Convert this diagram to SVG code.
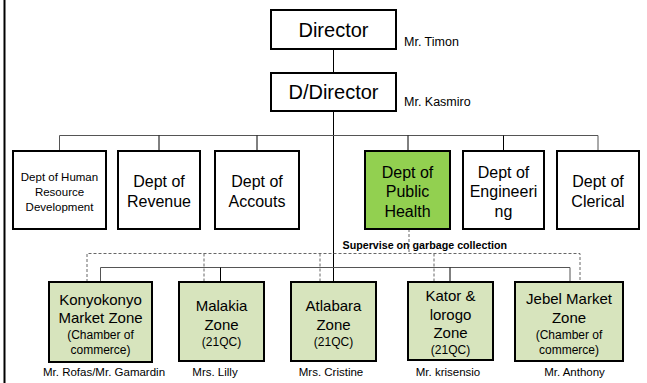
<svg xmlns="http://www.w3.org/2000/svg" width="647" height="383" viewBox="0 0 647 383">
<style>
text{font-family:"Liberation Sans",Arial,sans-serif;fill:#000;text-anchor:middle}
.box{fill:#fff;stroke:#000;stroke-width:2}
.ph{fill:#92D050;stroke:#000;stroke-width:2}
.zone{fill:#D7E4BD;stroke:#000;stroke-width:2}
.ln{fill:none;stroke:#000;stroke-width:1}
.ln2{fill:none;stroke:#555;stroke-width:1}
.dash{fill:none;stroke:#666;stroke-width:1;stroke-dasharray:3,2}
.t20{font-size:20px}
.t16{font-size:16px}
.t15{font-size:15px}
.t12{font-size:12px}
.nm{font-size:12.5px;text-anchor:start}
.zn{font-size:11.5px}
</style>
<rect x="3.5" y="0" width="2" height="383" fill="#000"/>
<g id="connectors">
<line class="ln" x1="333.5" y1="49" x2="333.5" y2="73"/>
<line class="ln" x1="333.5" y1="111" x2="333.5" y2="282"/>
<polyline class="ln2" points="59.5,151 59.5,135.5 598,135.5 598,151"/>
<line class="ln" x1="159" y1="135.5" x2="159" y2="151"/>
<line class="ln" x1="257" y1="135.5" x2="257" y2="151"/>
<line class="ln" x1="408" y1="135.5" x2="408" y2="151"/>
<line class="ln" x1="503.5" y1="135.5" x2="503.5" y2="151"/>
<polyline class="ln2" points="100.5,282 100.5,267.5 570,267.5 570,282"/>
<line class="ln" x1="220.5" y1="267.5" x2="220.5" y2="282"/>
<line class="ln" x1="450" y1="267.5" x2="450" y2="282"/>
<line class="dash" x1="409" y1="229" x2="409" y2="253.5"/>
<polyline class="dash" points="87,282 87,253.5 580,253.5 580,282"/>
<line class="dash" x1="204" y1="253.5" x2="204" y2="282"/>
<line class="dash" x1="320" y1="253.5" x2="320" y2="282"/>
<line class="dash" x1="434" y1="253.5" x2="434" y2="282"/>
</g>
<g id="director">
<rect class="box" x="271" y="10" width="125" height="39"/>
<text class="t20" x="333.5" y="37">Director</text>
<text class="nm" x="404" y="46">Mr. Timon</text>
</g>
<g id="ddirector">
<rect class="box" x="271" y="73" width="125" height="38"/>
<text class="t20" x="333.5" y="99">D/Director</text>
<text class="nm" x="404" y="106">Mr. Kasmiro</text>
</g>
<g id="dept-hr">
<rect class="box" x="13" y="151" width="93" height="78"/>
<text style="font-size:11.5px" x="59.5" y="181">Dept of Human</text>
<text style="font-size:11.5px" x="59.5" y="196">Resource</text>
<text style="font-size:11.5px" x="59.5" y="210.5">Development</text>
</g>
<g id="dept-revenue">
<rect class="box" x="118" y="151" width="82" height="78"/>
<text class="t16" x="159" y="186.5">Dept of</text>
<text class="t16" x="159" y="207">Revenue</text>
</g>
<g id="dept-accouts">
<rect class="box" x="215" y="151" width="84" height="78"/>
<text class="t16" x="257" y="186.5">Dept of</text>
<text class="t16" x="257" y="207">Accouts</text>
</g>
<g id="dept-public-health">
<rect class="ph" x="365" y="151" width="85" height="78"/>
<text class="t16" x="407.5" y="177.5">Dept of</text>
<text class="t16" x="407.5" y="197">Public</text>
<text class="t16" x="407.5" y="216.5">Health</text>
</g>
<g id="dept-engineering">
<rect class="box" x="463" y="151" width="81" height="78"/>
<text class="t16" x="503.5" y="177.5">Dept of</text>
<text class="t16" x="503.5" y="197">Engineeri</text>
<text class="t16" x="503.5" y="216.5">ng</text>
</g>
<g id="dept-clerical">
<rect class="box" x="557" y="151" width="82" height="78"/>
<text class="t16" x="598" y="187">Dept of</text>
<text class="t16" x="598" y="206.5">Clerical</text>
</g>
<text x="342.5" y="249" style="font-size:10.7px;font-weight:bold;text-anchor:start">Supervise on garbage collection</text>
<g id="zone-konyokonyo">
<rect class="zone" x="49" y="282" width="103" height="80"/>
<text class="t15" x="100.5" y="304.5">Konyokonyo</text>
<text class="t15" x="100.5" y="323">Market Zone</text>
<text class="t12" x="100.5" y="339">(Chamber of</text>
<text class="t12" x="100.5" y="353.5">commerce)</text>
<text class="zn" x="104" y="376">Mr. Rofas/Mr. Gamardin</text>
</g>
<g id="zone-malakia">
<rect class="zone" x="179" y="282" width="85" height="79"/>
<text class="t15" x="221.5" y="310.5">Malakia</text>
<text class="t15" x="221.5" y="329.5">Zone</text>
<text class="t12" x="221.5" y="346">(21QC)</text>
<text class="zn" x="215" y="376">Mrs. Lilly</text>
</g>
<g id="zone-atlabara">
<rect class="zone" x="291" y="282" width="85" height="79"/>
<text class="t15" x="333.5" y="310.5">Atlabara</text>
<text class="t15" x="333.5" y="329.5">Zone</text>
<text class="t12" x="333.5" y="346">(21QC)</text>
<text class="zn" x="331" y="376">Mrs. Cristine</text>
</g>
<g id="zone-kator">
<rect class="zone" x="408" y="282" width="85" height="78"/>
<text class="t15" x="450.5" y="300.5">Kator &amp;</text>
<text class="t15" x="450.5" y="319.5">lorogo</text>
<text class="t15" x="450.5" y="338">Zone</text>
<text class="t12" x="450.5" y="354">(21QC)</text>
<text class="zn" x="448" y="376">Mr. krisensio</text>
</g>
<g id="zone-jebel">
<rect class="zone" x="515" y="282" width="108" height="79"/>
<text class="t15" x="569" y="304">Jebel Market</text>
<text class="t15" x="569" y="323">Zone</text>
<text class="t12" x="569" y="339">(Chamber of</text>
<text class="t12" x="569" y="353.5">commerce)</text>
<text class="zn" x="574.5" y="376">Mr. Anthony</text>
</g>
</svg>
